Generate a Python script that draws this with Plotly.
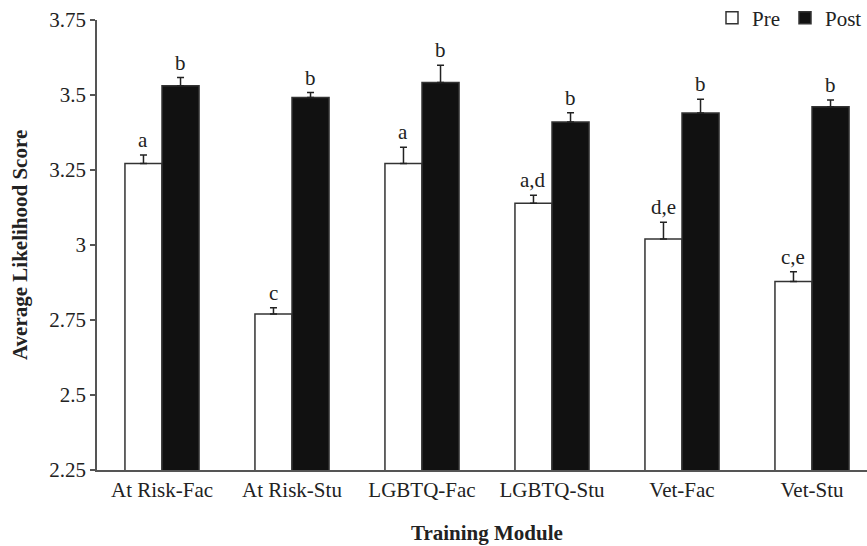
import plotly.graph_objects as go

categories = ["At Risk-Fac", "At Risk-Stu", "LGBTQ-Fac", "LGBTQ-Stu", "Vet-Fac", "Vet-Stu"]
pre_values = [3.272, 2.77, 3.272, 3.139, 3.02, 2.878]
pre_err = [0.028, 0.021, 0.054, 0.027, 0.056, 0.033]
post_values = [3.531, 3.492, 3.542, 3.41, 3.44, 3.461]
post_err = [0.027, 0.016, 0.057, 0.031, 0.046, 0.022]
pre_letters = ["a", "c", "a", "a,d", "d,e", "c,e"]
post_letters = ["b", "b", "b", "b", "b", "b"]
y_ticks = [2.25, 2.5, 2.75, 3, 3.25, 3.5, 3.75]
y_tick_text = ["2.25", "2.5", "2.75", "3", "3.25", "3.5", "3.75"]

FONT = "Liberation Serif, Times New Roman, serif"
FS = 21
TXT = "#222222"
BARGAP = 0.43
bar_w = (1 - BARGAP) / 2

fig = go.Figure()
fig.add_trace(go.Bar(
    name="Pre", x=categories, y=pre_values,
    marker=dict(color="white", line=dict(color="#333333", width=1.5)),
    error_y=dict(type="data", array=pre_err, arrayminus=[0] * len(pre_err),
                 symmetric=False, color="#222222", thickness=1.5, width=3.5),
))
fig.add_trace(go.Bar(
    name="Post", x=categories, y=post_values,
    marker=dict(color="#111111", line=dict(color="#333333", width=1.5)),
    error_y=dict(type="data", array=post_err, arrayminus=[0] * len(post_err),
                 symmetric=False, color="#222222", thickness=1.5, width=3.5),
))

annotations = []
for i in range(len(categories)):
    annotations.append(dict(x=i - bar_w / 2, y=pre_values[i] + pre_err[i], xref="x", yref="y",
                            text=pre_letters[i], showarrow=False, yanchor="bottom", yshift=1,
                            font=dict(family=FONT, size=FS, color=TXT)))
    annotations.append(dict(x=i + bar_w / 2, y=post_values[i] + post_err[i], xref="x", yref="y",
                            text=post_letters[i], showarrow=False, yanchor="bottom", yshift=1,
                            font=dict(family=FONT, size=FS, color=TXT)))

annotations.append(dict(x=2.5, y=0, xref="x", yref="paper", text="<b>Training Module</b>",
                        showarrow=False, yanchor="middle", yshift=-63,
                        font=dict(family=FONT, size=FS, color=TXT)))
annotations.append(dict(x=0, y=0.5, xref="paper", yref="paper", text="<b>Average Likelihood Score</b>",
                        showarrow=False, textangle=-90, xanchor="center", xshift=-77,
                        font=dict(family=FONT, size=FS, color=TXT)))

fig.update_layout(
    width=867, height=546,
    margin=dict(l=97, r=0, t=20, b=76, autoexpand=False),
    paper_bgcolor="white", plot_bgcolor="white",
    barmode="group", bargap=BARGAP, bargroupgap=0,
    font=dict(family=FONT, size=FS, color=TXT),
    showlegend=True,
    legend=dict(orientation="h", xref="container", yref="container",
                x=1.0, xanchor="right", y=1 - 18 / 546, yanchor="middle",
                font=dict(family=FONT, size=FS, color=TXT),
                itemwidth=30, bgcolor="rgba(0,0,0,0)", tracegroupgap=0),
    annotations=annotations,
    xaxis=dict(range=[-0.5, 5.423], showline=True, linecolor="#555555", linewidth=1.5,
               ticks="", showgrid=False, zeroline=False,
               tickfont=dict(family=FONT, size=FS, color=TXT)),
    yaxis=dict(range=[2.25, 3.75], tickvals=y_ticks, ticktext=y_tick_text,
               showline=True, linecolor="#555555", linewidth=1.5,
               ticks="outside", ticklen=5, tickwidth=1.5, tickcolor="#555555",
               showgrid=False, zeroline=False,
               tickfont=dict(family=FONT, size=FS, color=TXT)),
)

fig.write_html("out.html")
